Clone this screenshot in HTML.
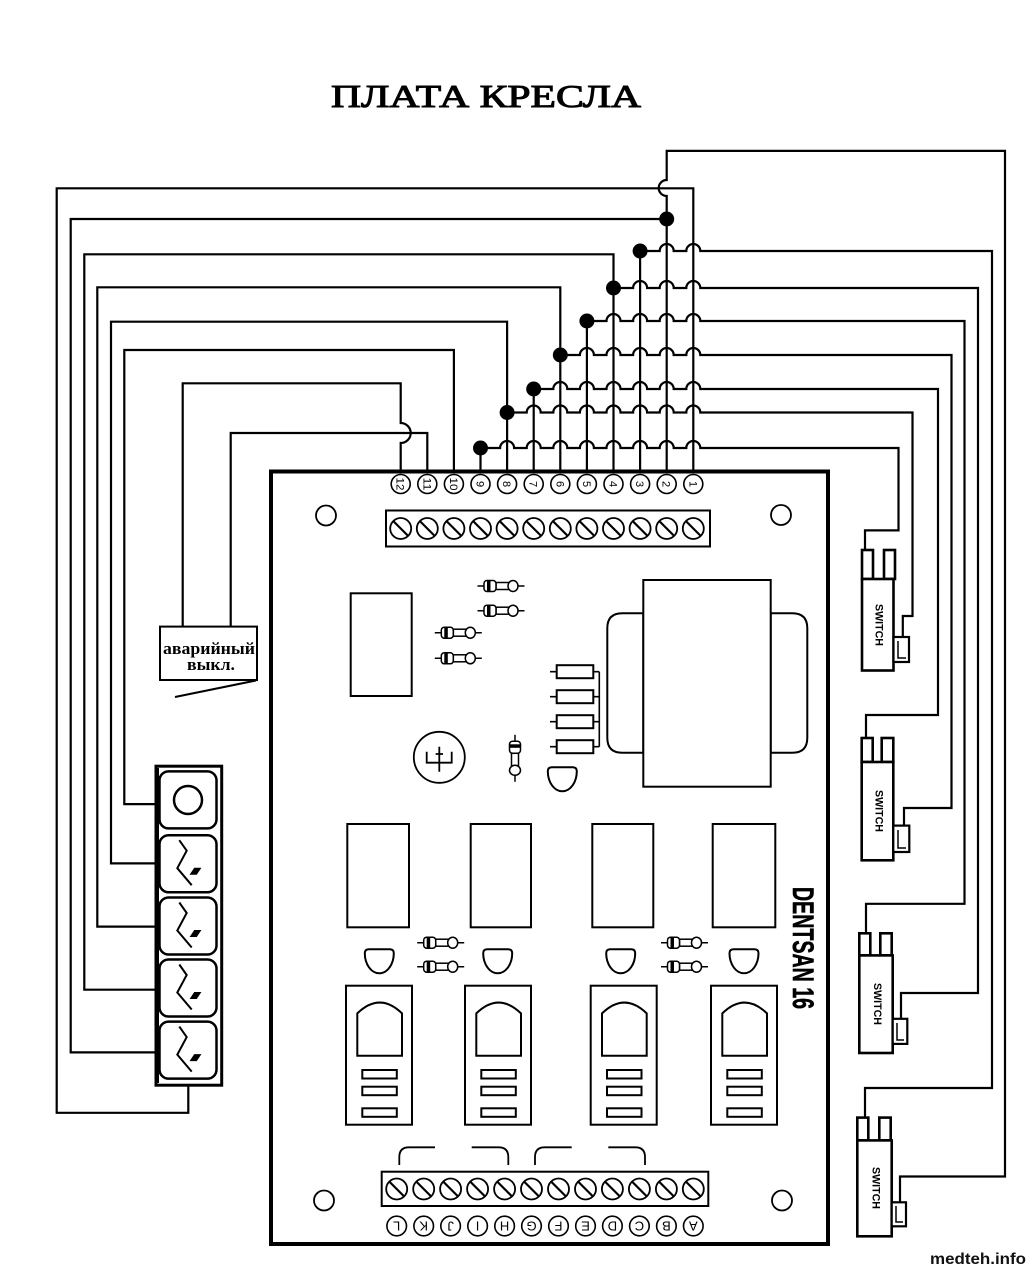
<!DOCTYPE html>
<html><head><meta charset="utf-8"><style>
html,body{margin:0;padding:0;background:#fff;}
svg{display:block;}
</style></head><body>
<svg width="1032" height="1268" viewBox="0 0 1032 1268" xmlns="http://www.w3.org/2000/svg">
<defs>
<g id="scr"><circle r="10.5" fill="#fff" stroke="#000" stroke-width="1.8"/><line x1="-7" y1="-7" x2="7" y2="7" stroke="#000" stroke-width="2.2"/></g>
<g id="dio" stroke="#000" stroke-width="1.5">
<line x1="-23.5" y1="0" x2="23.5" y2="0"/>
<rect x="-5" y="-3.5" width="13" height="7" fill="#fff"/>
<rect x="-17" y="-5.5" width="12" height="11" rx="3" fill="#fff"/>
<rect x="-14" y="-5" width="3.5" height="10" fill="#000" stroke="none"/>
<ellipse cx="12" cy="0" rx="5" ry="5.5" fill="#fff"/>
</g>
<path id="tr" d="M-14.5 4 Q-14.5 0 -10.5 0 H10.5 Q14.5 0 14.5 4 A14.5 20 0 0 1 -14.5 4 Z" fill="#fff" stroke="#000" stroke-width="2"/>
<g id="blk" fill="none" stroke="#000" stroke-width="2">
<rect x="0" y="0" width="66" height="139"/>
<path d="M11.3 70 V27.7 Q33.6 6 56 27.7 V70 Z"/>
<rect x="16.3" y="84.3" width="34.5" height="8.5"/>
<rect x="16.3" y="101" width="34.5" height="8.5"/>
<rect x="16.3" y="122.6" width="34.5" height="8.5"/>
</g>
<g id="btn" fill="none" stroke="#000">
<rect x="0" y="0" width="57" height="57" rx="9" stroke-width="2.5"/>
<polyline points="19.8,5 27.2,15.5 17.8,33 32.2,50" stroke-width="2"/>
<polygon points="31,39 35,33 41,33 37,39" fill="#000" stroke-width="1"/>
</g>
</defs>

<!-- Title -->
<text x="331" y="107" font-family="Liberation Serif, serif" font-size="32" textLength="310" lengthAdjust="spacingAndGlyphs" fill="#000" stroke="#000" stroke-width="1">ПЛАТА КРЕСЛА</text>

<!-- Wires -->
<g fill="none" stroke="#000" stroke-width="2.2">
<path d="M693.3 472 V188.3 H56.7 V1112.8 H188.3 V1085"/>
<path d="M666.7 219 H70.7 V1052.4 H156"/>
<path d="M613.5 472 V254.3 H84.3 V989.7 H156"/>
<path d="M560.3 472 V287.3 H97.3 V926.6 H156"/>
<path d="M507.1 472 V321.7 H111 V863.4 H156"/>
<path d="M453.9 472 V350 H124.3 V804.1 H156"/>
<path d="M400.7 472 V443 A10 10 0 0 0 400.7 423 V383.3 H182.7 V626.6"/>
<path d="M427.3 472 V433 H230.7 V626.6"/>
<path d="M666.7 472 V196 A8 8 0 0 1 666.7 180 V150.9 H1005 V1176.5 H900 V1202.3"/>
<path d="M640.1 472 V251"/>
<path d="M586.9 472 V321"/>
<path d="M533.7 472 V389"/>
<path d="M480.5 472 V448"/>
<path d="M640.1 251 H659.7 A7 7 0 0 1 673.7 251 H686.3 A7 7 0 0 1 700.3 251 H992 V1088 H865 V1117.6"/>
<path d="M613.5 288 H633.1 A7 7 0 0 1 647.1 288 H659.7 A7 7 0 0 1 673.7 288 H686.3 A7 7 0 0 1 700.3 288 H978 V993 H901 V1018.8"/>
<path d="M586.9 321 H606.5 A7 7 0 0 1 620.5 321 H633.1 A7 7 0 0 1 647.1 321 H659.7 A7 7 0 0 1 673.7 321 H686.3 A7 7 0 0 1 700.3 321 H964.5 V903.8 H866 V933"/>
<path d="M560.3 355 H579.9 A7 7 0 0 1 593.9 355 H606.5 A7 7 0 0 1 620.5 355 H633.1 A7 7 0 0 1 647.1 355 H659.7 A7 7 0 0 1 673.7 355 H686.3 A7 7 0 0 1 700.3 355 H951.5 V808 H904 V825.6"/>
<path d="M533.7 389 H553.3 A7 7 0 0 1 567.3 389 H579.9 A7 7 0 0 1 593.9 389 H606.5 A7 7 0 0 1 620.5 389 H633.1 A7 7 0 0 1 647.1 389 H659.7 A7 7 0 0 1 673.7 389 H686.3 A7 7 0 0 1 700.3 389 H938 V715 H866 V738"/>
<path d="M507.1 412.5 H526.7 A7 7 0 0 1 540.7 412.5 H553.3 A7 7 0 0 1 567.3 412.5 H579.9 A7 7 0 0 1 593.9 412.5 H606.5 A7 7 0 0 1 620.5 412.5 H633.1 A7 7 0 0 1 647.1 412.5 H659.7 A7 7 0 0 1 673.7 412.5 H686.3 A7 7 0 0 1 700.3 412.5 H912.5 V616 H902.8 V637"/>
<path d="M480.5 448 H500.1 A7 7 0 0 1 514.1 448 H526.7 A7 7 0 0 1 540.7 448 H553.3 A7 7 0 0 1 567.3 448 H579.9 A7 7 0 0 1 593.9 448 H606.5 A7 7 0 0 1 620.5 448 H633.1 A7 7 0 0 1 647.1 448 H659.7 A7 7 0 0 1 673.7 448 H686.3 A7 7 0 0 1 700.3 448 H898.5 V530.4 H865 V550"/>
</g>
<g fill="#000">
<circle cx="666.7" cy="219" r="7.5"/>
<circle cx="640.1" cy="251" r="7.5"/>
<circle cx="613.5" cy="288" r="7.5"/>
<circle cx="586.9" cy="321" r="7.5"/>
<circle cx="560.3" cy="355" r="7.5"/>
<circle cx="533.7" cy="389" r="7.5"/>
<circle cx="507.1" cy="412.5" r="7.5"/>
<circle cx="480.5" cy="448" r="7.5"/>
</g>

<!-- Board -->
<rect x="271" y="471.5" width="557" height="772.5" fill="none" stroke="#000" stroke-width="4"/>

<g fill="#fff" stroke="#000" stroke-width="1.6">
<circle cx="400.7" cy="484" r="9.5"/><circle cx="427.3" cy="484" r="9.5"/><circle cx="453.9" cy="484" r="9.5"/><circle cx="480.5" cy="484" r="9.5"/><circle cx="507.1" cy="484" r="9.5"/><circle cx="533.7" cy="484" r="9.5"/><circle cx="560.3" cy="484" r="9.5"/><circle cx="586.9" cy="484" r="9.5"/><circle cx="613.5" cy="484" r="9.5"/><circle cx="640.1" cy="484" r="9.5"/><circle cx="666.7" cy="484" r="9.5"/><circle cx="693.3" cy="484" r="9.5"/>
</g>
<g font-family="Liberation Sans, sans-serif" font-size="11" text-anchor="middle" fill="#000">
<text transform="translate(400.7,484) rotate(90)" y="4" textLength="13" lengthAdjust="spacingAndGlyphs">12</text>
<text transform="translate(427.3,484) rotate(90)" y="4" textLength="13" lengthAdjust="spacingAndGlyphs">11</text>
<text transform="translate(453.9,484) rotate(90)" y="4" textLength="13" lengthAdjust="spacingAndGlyphs">10</text>
<text transform="translate(480.5,484) rotate(90)" y="4">9</text>
<text transform="translate(507.1,484) rotate(90)" y="4">8</text>
<text transform="translate(533.7,484) rotate(90)" y="4">7</text>
<text transform="translate(560.3,484) rotate(90)" y="4">6</text>
<text transform="translate(586.9,484) rotate(90)" y="4">5</text>
<text transform="translate(613.5,484) rotate(90)" y="4">4</text>
<text transform="translate(640.1,484) rotate(90)" y="4">3</text>
<text transform="translate(666.7,484) rotate(90)" y="4">2</text>
<text transform="translate(693.3,484) rotate(90)" y="4">1</text>
</g>

<rect x="386" y="510.5" width="324" height="36" fill="none" stroke="#000" stroke-width="2"/>
<use href="#scr" x="400.7" y="528.5"/><use href="#scr" x="427.3" y="528.5"/><use href="#scr" x="453.9" y="528.5"/><use href="#scr" x="480.5" y="528.5"/><use href="#scr" x="507.1" y="528.5"/><use href="#scr" x="533.7" y="528.5"/><use href="#scr" x="560.3" y="528.5"/><use href="#scr" x="586.9" y="528.5"/><use href="#scr" x="613.5" y="528.5"/><use href="#scr" x="640.1" y="528.5"/><use href="#scr" x="666.7" y="528.5"/><use href="#scr" x="693.3" y="528.5"/>

<g fill="none" stroke="#000" stroke-width="1.8">
<circle cx="326" cy="515.5" r="10"/>
<circle cx="781" cy="515" r="10"/>
<circle cx="324" cy="1200.5" r="10"/>
<circle cx="782" cy="1200.5" r="10"/>
</g>

<rect x="350.7" y="593.3" width="61" height="102.7" fill="none" stroke="#000" stroke-width="2"/>
<use href="#dio" x="501" y="586"/>
<use href="#dio" x="501" y="610.7"/>
<use href="#dio" x="458.3" y="632.7"/>
<use href="#dio" x="458.3" y="658.3"/>
<use href="#dio" x="440.7" y="942.7"/>
<use href="#dio" x="440.7" y="966.7"/>
<use href="#dio" x="684.5" y="942.7"/>
<use href="#dio" x="684.5" y="966.7"/>
<use href="#dio" transform="translate(515,758.3) rotate(90)"/>

<g fill="none" stroke="#000" stroke-width="2">
<path d="M550 671.7 H557 M593 671.7 H599.3 M550 696.7 H557 M593 696.7 H599.3 M550 721.7 H557 M593 721.7 H599.3 M550 746.7 H557 M593 746.7 H599.3 M599.3 671.7 V746.7" stroke-width="1.6"/>
<rect x="556.7" y="665.2" width="36.6" height="13"/>
<rect x="556.7" y="690.2" width="36.6" height="13"/>
<rect x="556.7" y="715.2" width="36.6" height="13"/>
<rect x="556.7" y="740.2" width="36.6" height="13"/>
</g>

<g fill="none" stroke="#000" stroke-width="1.8">
<circle cx="439.3" cy="757.3" r="25.5"/>
<path d="M426.7 751.7 V762.7 H451.7 V751.7"/>
<path d="M439.3 746.7 V771.7 M435.7 754 H443"/>
</g>

<use href="#tr" x="562.3" y="767.3"/>
<use href="#tr" x="379.3" y="949.3"/>
<use href="#tr" x="497.7" y="949.3"/>
<use href="#tr" x="620.7" y="949.3"/>
<use href="#tr" x="744" y="949.3"/>

<g fill="#fff" stroke="#000" stroke-width="2">
<path d="M643.3 613.3 H622.3 Q607.3 613.3 607.3 628.3 V737.7 Q607.3 752.7 622.3 752.7 H643.3 Z"/>
<path d="M770.7 613.3 H792.3 Q807.3 613.3 807.3 628.3 V737.7 Q807.3 752.7 792.3 752.7 H770.7 Z"/>
<rect x="643.3" y="580" width="127.4" height="206.7"/>
</g>

<g fill="none" stroke="#000" stroke-width="2">
<rect x="347.3" y="824" width="61.7" height="103.3"/>
<rect x="470.7" y="824" width="60.3" height="103.3"/>
<rect x="592.3" y="824" width="61" height="103.3"/>
<rect x="712.7" y="824" width="62.6" height="103.3"/>
</g>
<use href="#blk" x="346" y="985.7"/>
<use href="#blk" x="465" y="985.7"/>
<use href="#blk" x="590.7" y="985.7"/>
<use href="#blk" x="711" y="985.7"/>

<text transform="translate(804,948) rotate(90)" x="0" y="10.8" text-anchor="middle" font-family="Liberation Sans, sans-serif" font-weight="bold" font-size="30" textLength="122" lengthAdjust="spacingAndGlyphs" fill="#000" stroke="#000" stroke-width="0.6">DENTSAN 16</text>

<path d="M399.3 1165 V1157 Q399.3 1147.3 409 1147.3 H435 M471.7 1147.3 H498.6 Q508.3 1147.3 508.3 1157 V1165 M535 1165 V1157 Q535 1147.3 544.7 1147.3 H571.7 M608.3 1147.3 H635.3 Q645 1147.3 645 1157 V1165" fill="none" stroke="#000" stroke-width="1.8"/>

<rect x="381.7" y="1171.7" width="326.6" height="34.3" fill="none" stroke="#000" stroke-width="2"/>
<use href="#scr" x="396.7" y="1189"/><use href="#scr" x="423.7" y="1189"/><use href="#scr" x="450.6" y="1189"/><use href="#scr" x="477.6" y="1189"/><use href="#scr" x="504.6" y="1189"/><use href="#scr" x="531.5" y="1189"/><use href="#scr" x="558.5" y="1189"/><use href="#scr" x="585.5" y="1189"/><use href="#scr" x="612.4" y="1189"/><use href="#scr" x="639.4" y="1189"/><use href="#scr" x="666.4" y="1189"/><use href="#scr" x="693.3" y="1189"/>

<g fill="#fff" stroke="#000" stroke-width="1.6">
<circle cx="396.7" cy="1226" r="9.8"/><circle cx="423.7" cy="1226" r="9.8"/><circle cx="450.6" cy="1226" r="9.8"/><circle cx="477.6" cy="1226" r="9.8"/><circle cx="504.6" cy="1226" r="9.8"/><circle cx="531.5" cy="1226" r="9.8"/><circle cx="558.5" cy="1226" r="9.8"/><circle cx="585.5" cy="1226" r="9.8"/><circle cx="612.4" cy="1226" r="9.8"/><circle cx="639.4" cy="1226" r="9.8"/><circle cx="666.4" cy="1226" r="9.8"/><circle cx="693.3" cy="1226" r="9.8"/>
</g>
<g font-family="Liberation Sans, sans-serif" font-size="13" text-anchor="middle" fill="#000">
<text transform="translate(396.7,1226) rotate(180)" y="4.7">L</text>
<text transform="translate(423.7,1226) rotate(180)" y="4.7">K</text>
<text transform="translate(450.6,1226) rotate(180)" y="4.7">J</text>
<text transform="translate(477.6,1226) rotate(180)" y="4.7">I</text>
<text transform="translate(504.6,1226) rotate(180)" y="4.7">H</text>
<text transform="translate(531.5,1226) rotate(180)" y="4.7">G</text>
<text transform="translate(558.5,1226) rotate(180)" y="4.7">F</text>
<text transform="translate(585.5,1226) rotate(180)" y="4.7">E</text>
<text transform="translate(612.4,1226) rotate(180)" y="4.7">D</text>
<text transform="translate(639.4,1226) rotate(180)" y="4.7">C</text>
<text transform="translate(666.4,1226) rotate(180)" y="4.7">B</text>
<text transform="translate(693.3,1226) rotate(180)" y="4.7">A</text>
</g>

<rect x="160" y="626.6" width="97" height="53.4" fill="#fff" stroke="#000" stroke-width="2"/>
<text x="163" y="654" font-family="Liberation Serif, serif" font-weight="bold" font-size="17" textLength="92" lengthAdjust="spacingAndGlyphs" fill="#000">аварийный</text>
<text x="187" y="670" font-family="Liberation Serif, serif" font-weight="bold" font-size="17" textLength="48" lengthAdjust="spacingAndGlyphs" fill="#000">выкл.</text>
<line x1="175" y1="697" x2="256" y2="680.5" stroke="#000" stroke-width="2"/>

<rect x="156" y="766.2" width="65.7" height="319" fill="#fff" stroke="#000" stroke-width="3"/>
<line x1="158" y1="768" x2="158" y2="1083" stroke="#000" stroke-width="2"/>
<rect x="159.5" y="771.4" width="57" height="57" rx="9" fill="none" stroke="#000" stroke-width="2.5"/>
<circle cx="188" cy="800" r="14" fill="none" stroke="#000" stroke-width="2.5"/>
<use href="#btn" x="159.5" y="835.2"/>
<use href="#btn" x="159.5" y="897.5"/>
<use href="#btn" x="159.5" y="959.5"/>
<use href="#btn" x="159.5" y="1021.6"/>

<g fill="#fff" stroke="#000" stroke-width="2.2">
<rect x="862" y="550" width="11" height="29" stroke-width="2.6"/>
<rect x="884" y="550" width="11" height="29" stroke-width="2.6"/>
<rect x="862" y="579" width="31.5" height="91.5" stroke-width="2.6"/>
<rect x="893.5" y="637" width="15.5" height="25"/>
<path d="M898 641 V658 H906" fill="none" stroke-width="1.5"/>
<rect x="861.7" y="738" width="11" height="24" stroke-width="2.6"/>
<rect x="881.7" y="738" width="11.6" height="24" stroke-width="2.6"/>
<rect x="861.7" y="762" width="31.6" height="98.3" stroke-width="2.6"/>
<rect x="893.3" y="825.6" width="16" height="26.4"/>
<path d="M898 830 V848 H906" fill="none" stroke-width="1.5"/>
<rect x="859.3" y="933.3" width="11" height="22" stroke-width="2.6"/>
<rect x="880.3" y="933.3" width="11.4" height="22" stroke-width="2.6"/>
<rect x="859.3" y="955.4" width="33.4" height="97.6" stroke-width="2.6"/>
<rect x="892.7" y="1018.8" width="14.6" height="25.1"/>
<path d="M897 1023 V1040 H904" fill="none" stroke-width="1.5"/>
<rect x="857.3" y="1117.6" width="11" height="22.8" stroke-width="2.6"/>
<rect x="879.3" y="1117.6" width="11.4" height="22.8" stroke-width="2.6"/>
<rect x="857.3" y="1140.4" width="34.4" height="95.9" stroke-width="2.6"/>
<rect x="891.7" y="1202.3" width="14.3" height="24"/>
<path d="M896 1206 V1222 H903" fill="none" stroke-width="1.5"/>
</g>
<g font-family="Liberation Sans, sans-serif" font-weight="bold" font-size="11" text-anchor="middle" fill="#000">
<text transform="translate(879.7,625) rotate(90)" y="4" textLength="42" lengthAdjust="spacingAndGlyphs">SWITCH</text>
<text transform="translate(879.5,811) rotate(90)" y="4" textLength="42" lengthAdjust="spacingAndGlyphs">SWITCH</text>
<text transform="translate(878,1004) rotate(90)" y="4" textLength="42" lengthAdjust="spacingAndGlyphs">SWITCH</text>
<text transform="translate(876.5,1188) rotate(90)" y="4" textLength="42" lengthAdjust="spacingAndGlyphs">SWITCH</text>
</g>

<text x="930" y="1264" font-family="Liberation Sans, sans-serif" font-weight="bold" font-size="16" textLength="96" lengthAdjust="spacingAndGlyphs" fill="#111">medteh.info</text>
</svg>
</body></html>
